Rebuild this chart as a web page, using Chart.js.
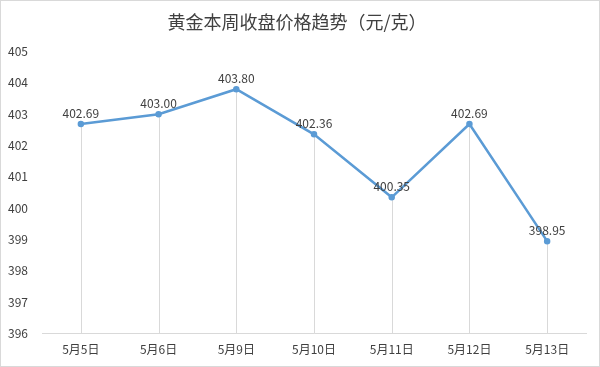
<!DOCTYPE html>
<html>
<head>
<meta charset="utf-8">
<script src="https://cdn.jsdelivr.net/npm/chart.js@4/dist/chart.umd.min.js"></script>
<style>
  html, body { margin: 0; padding: 0; background: #fff; }
  #wrap { width: 600px; height: 367px; box-sizing: border-box; border: 1px solid #d9d9d9; }
</style>
</head>
<body>
<div id="wrap"><canvas id="chart" width="598" height="365"></canvas></div>
<script>
// data
const days = ["5月5日", "5月6日", "5月9日", "5月10日", "5月11日", "5月12日", "5月13日"];
const prices = [402.69, 403.0, 403.8, 402.36, 400.35, 402.69, 398.95];
const yMin = 396;
const yMax = 405;

const FONT = "'Noto Sans CJK SC', 'Noto Sans', sans-serif";

// drop lines from each point down to the x axis (like Excel)
const dropLines = {
  id: "dropLines",
  beforeDatasetsDraw(chart) {
    const ctx = chart.ctx;
    const meta = chart.getDatasetMeta(0);
    const bottom = chart.chartArea.bottom;
    ctx.save();
    ctx.strokeStyle = "#d9d9d9";
    ctx.lineWidth = 1;
    meta.data.forEach((pt) => {
      const x = Math.round(pt.x) + 0.5;
      ctx.beginPath();
      ctx.moveTo(x, pt.y);
      ctx.lineTo(x, bottom);
      ctx.stroke();
    });
    ctx.restore();
  },
};

// value labels above each point
const valueLabels = {
  id: "valueLabels",
  afterDatasetsDraw(chart) {
    const ctx = chart.ctx;
    const meta = chart.getDatasetMeta(0);
    ctx.save();
    ctx.font = "12px " + FONT;
    ctx.fillStyle = "#404040";
    ctx.textAlign = "center";
    ctx.textBaseline = "bottom";
    meta.data.forEach((pt, i) => {
      ctx.fillText(prices[i].toFixed(2), pt.x, pt.y - 5);
    });
    ctx.restore();
  },
};

new Chart(document.getElementById("chart").getContext("2d"), {
  type: "line",
  data: {
    labels: days,
    datasets: [
      {
        data: prices,
        borderColor: "#5b9bd5",
        backgroundColor: "#5b9bd5",
        borderWidth: 2.5,
        pointRadius: 2,
        pointHoverRadius: 2,
        tension: 0,
      },
    ],
  },
  options: {
    responsive: false,
    animation: false,
    layout: { padding: { left: 7, right: 13, top: 0, bottom: 0 } },
    plugins: {
      legend: { display: false },
      tooltip: { enabled: false },
      title: {
        display: true,
        text: "黄金本周收盘价格趋势（元/克）",
        color: "#404040",
        font: { family: FONT, size: 18, weight: "normal" },
        padding: { top: 10, bottom: 19 },
      },
    },
    scales: {
      x: {
        offset: true,
        grid: { display: false, drawTicks: false },
        border: { display: true, color: "#d9d9d9" },
        ticks: { color: "#404040", font: { family: FONT, size: 12 }, padding: 9, maxRotation: 0 },
      },
      y: {
        min: yMin,
        max: yMax,
        afterFit: (s) => { s.width = 34; },
        grid: { display: false, drawTicks: false },
        border: { display: false },
        ticks: {
          stepSize: 1,
          color: "#404040",
          font: { family: FONT, size: 12 },
          crossAlign: "far",
          padding: 4,
        },
      },
    },
  },
  plugins: [dropLines, valueLabels],
});
</script>
</body>
</html>
